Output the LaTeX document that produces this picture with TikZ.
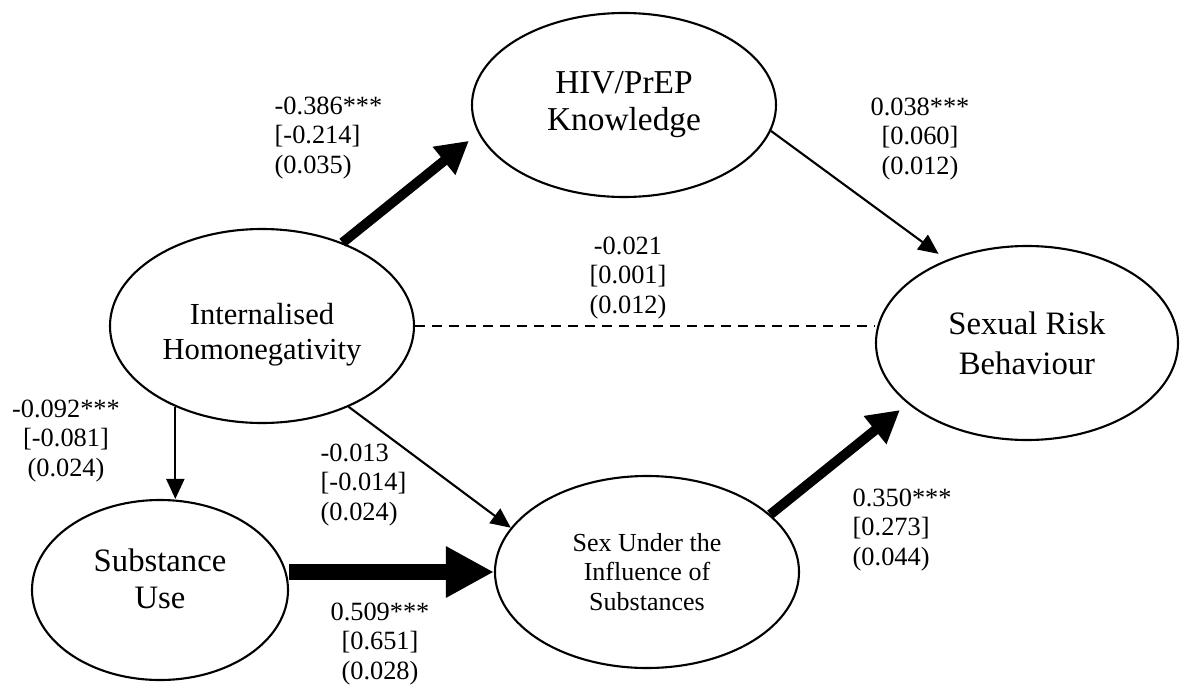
\documentclass[tikz,border=0pt]{standalone}
\usepackage{fontspec}
\setmainfont{Liberation Serif}
\usetikzlibrary{shapes.geometric}
\usetikzlibrary{arrows.meta}

\begin{document}
\begin{tikzpicture}[
 latent/.style={ellipse, draw, line width=.6pt, inner sep=0, minimum width=3.04cm, minimum height=1.94cm, align=center},
 coef/.style={inner sep=0, align=center, font=\fontsize{7.5}{8.5}\selectfont},
 weak/.style={line width=.6pt, -{Triangle[length=2mm,width=1.8mm]}},
 strong/.style={line width=2.8pt, -{Triangle[length=3.2mm,width=3.4mm]}}
]
\useasboundingbox (0,0) rectangle (11.8,6.86);

\node[latent, minimum height=1.84cm, font=\fontsize{9.5}{10.5}\selectfont] (hiv) at (6.24,5.81) {HIV/PrEP\\Knowledge};
\node[latent, minimum width=3.02cm, font=\fontsize{9.3}{11.4}\selectfont] (sexrisk) at (10.27,3.43) {Sexual Risk\\Behaviour};
\node[latent, font=\fontsize{8.7}{10}\selectfont] (homoneg) at (2.62,3.60) {\rule{0pt}{11pt}Internalised\\Homonegativity};
\node[latent, minimum width=2.56cm, minimum height=1.80cm, font=\fontsize{9.3}{10.3}\selectfont] (subuse) at (1.60,0.96) {Substance\\Use\rule[-6.5pt]{0pt}{0pt}};
\node[latent, minimum height=1.92cm, font=\fontsize{7.4}{8.5}\selectfont] (sexsub) at (6.47,1.14) {Sex Under the\\Influence of\\Substances};

\draw[strong, shorten >=1.2mm] (homoneg.46) -- (hiv.191);
\draw[weak, shorten >=1mm] (hiv.350) -- (sexrisk.134);
\draw[line width=.6pt, dash pattern=on 1mm off .7mm] (homoneg.east) -- (sexrisk.west |- homoneg.east);
\draw[weak] (homoneg.223) -- (homoneg.223 |- subuse.north);
\draw[weak] (homoneg.317) -- (sexsub.162);
\draw[line width=4.8pt, -{Triangle[length=4.8mm,width=4.8mm]}] (subuse.east |- sexsub.west) -- (sexsub.west);
\draw[strong, shorten >=1mm] (sexsub.25) -- (sexrisk.207);

\node[coef, anchor=west, align=left] (c386) at (2.74,5.48) {-0.386***\\{[-0.214]}\\(0.035)};
\node[coef] (c038) at (9.20,5.47) {0.038***\\{[0.060]}\\(0.012)};
\node[coef] (c021) at (6.28,4.08) {-0.021\\{[0.001]}\\(0.012)};
\node[coef] (c092) at (0.66,2.45) {-0.092***\\{[-0.081]}\\(0.024)};
\node[coef, anchor=west, align=left] (c013) at (3.20,2.01) {-0.013\\{[-0.014]}\\(0.024)};
\node[coef] (c509) at (3.80,0.42) {0.509***\\{[0.651]}\\(0.028)};
\node[coef, anchor=west, align=left] (c350) at (8.52,1.56) {0.350***\\{[0.273]}\\(0.044)};
\end{tikzpicture}
\end{document}
